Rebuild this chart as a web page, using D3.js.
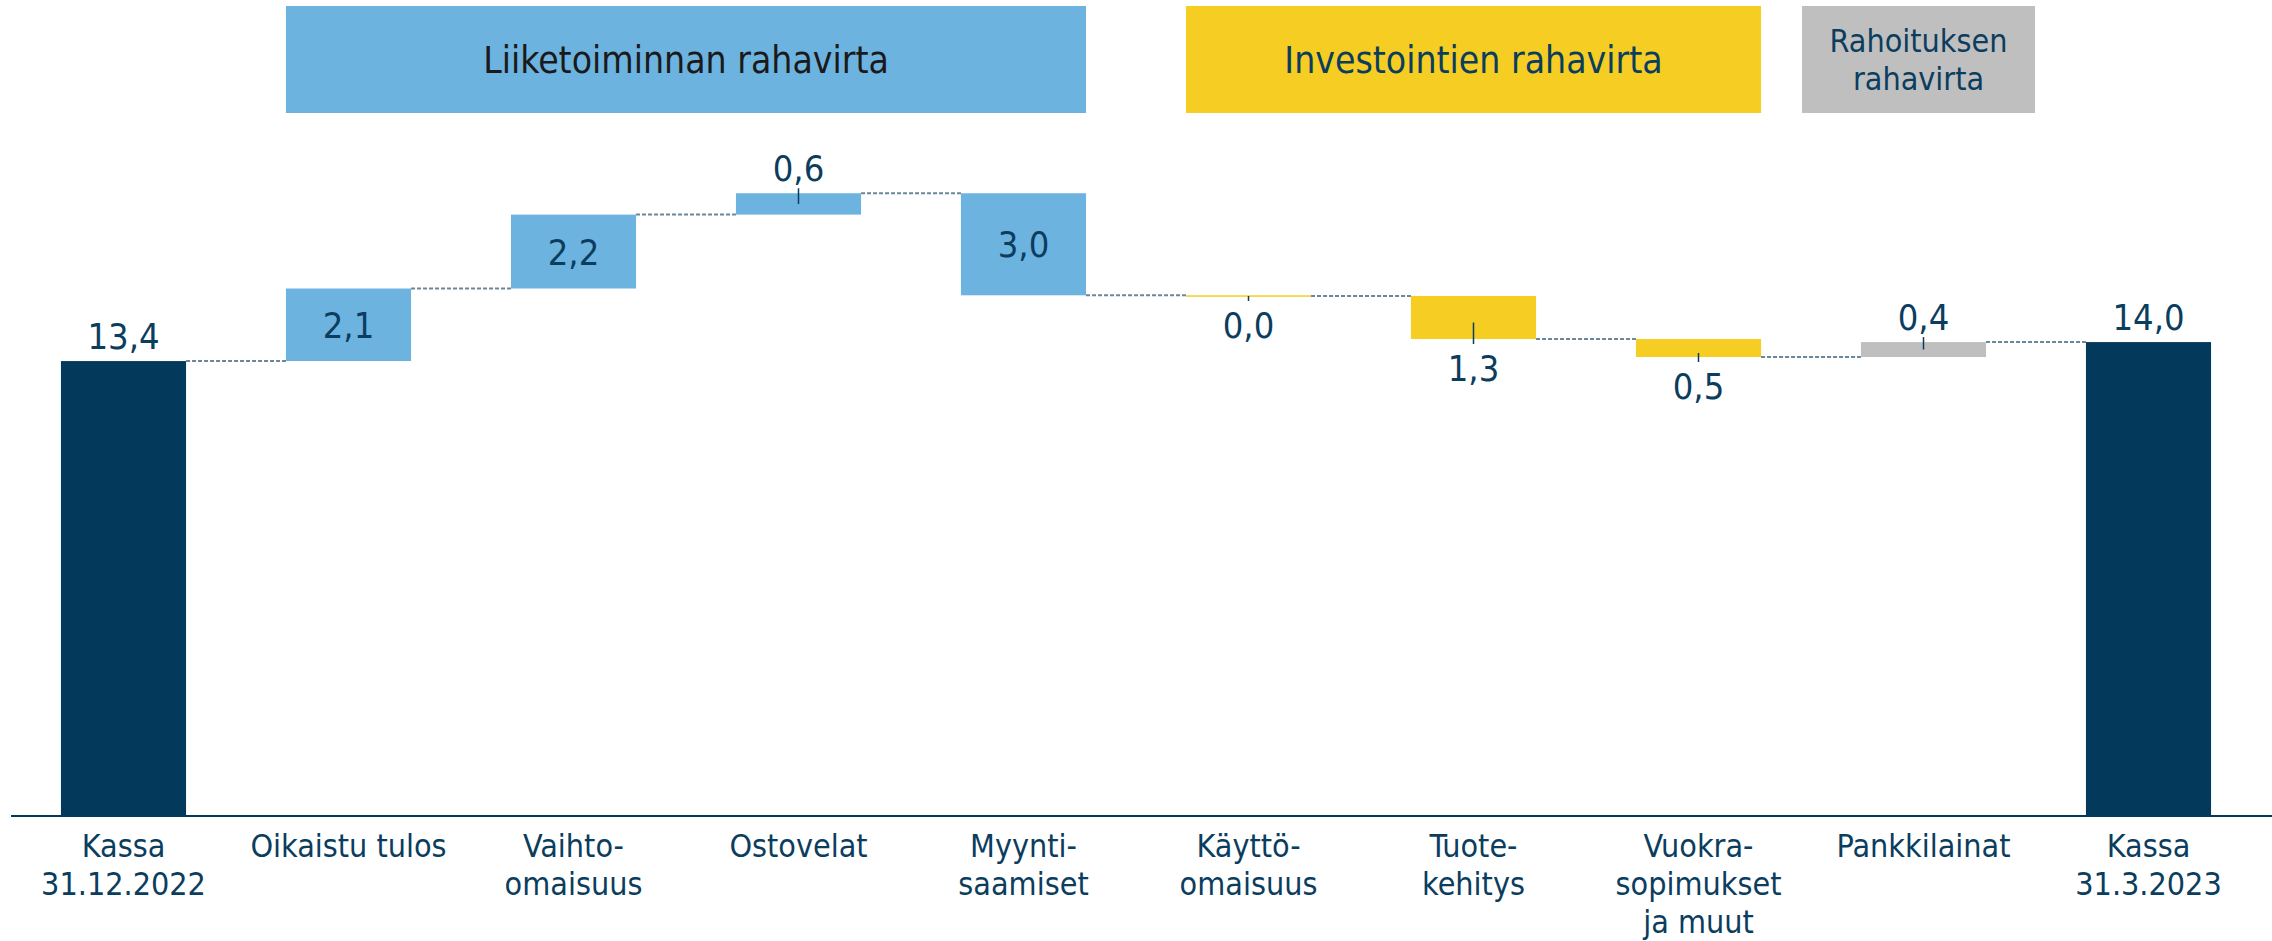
<!DOCTYPE html>
<html>
<head>
<meta charset="utf-8">
<script src="https://cdn.jsdelivr.net/npm/d3@7"></script>
<style>
  html, body { margin: 0; padding: 0; background: #fff; }
  svg text { font-family: "DejaVu Sans", sans-serif; font-stretch: condensed; }
</style>
</head>
<body>
<div id="app"></div>
<script>
const width = 2272,
  height = 941;

// data
const categories = [
  "Kassa\n31.12.2022",
  "Oikaistu tulos",
  "Vaihto-\nomaisuus",
  "Ostovelat",
  "Myynti-\nsaamiset",
  "Käyttö-\nomaisuus",
  "Tuote-\nkehitys",
  "Vuokra-\nsopimukset\nja muut",
  "Pankkilainat",
  "Kassa\n31.3.2023"
];
const startCash = 13.42;
const endCash = 13.98;
const changes = [2.14, 2.18, 0.63, -3.01, -0.02, -1.27, -0.53, 0.44];
const changeGroup = ["op", "op", "op", "op", "inv", "inv", "inv", "fin"];
const groups = ["op", "inv", "fin"];
const groupLabels = ["Liiketoiminnan rahavirta", "Investointien rahavirta", "Rahoituksen\nrahavirta"];

const navy = "#033a5c";
const textColor = "#0b3d5e";
const groupColor = { op: "#6db3e0", inv: "#f5cd23", fin: "#bfbfbf" };
const groupText = { op: "#1a1a1a", inv: textColor, fin: textColor };
const groupFont = { op: 37, inv: 37, fin: 32 };

// build waterfall steps
let steps = [];
steps.push({ cat: categories[0], y0: 0, y1: startCash, value: startCash, total: true, color: navy });
let run = startCash;
changes.forEach((c, i) => {
  steps.push({ cat: categories[i + 1], y0: run, y1: run + c, value: c, total: false, group: changeGroup[i], color: groupColor[changeGroup[i]] });
  run += c;
});
steps.push({ cat: categories[9], y0: 0, y1: endCash, value: endCash, total: true, color: navy });

const fmt = (v) => d3.format(".1f")(Math.abs(v)).replace(".", ",");

const x = d3.scaleBand().domain(categories).range([11, 2261]).paddingInner(0.444).paddingOuter(0.222);
const y = d3.scaleLinear().domain([0, 20]).range([816, 138]);
const bw = x.bandwidth();

const svg = d3.select("#app").append("svg").attr("width", width).attr("height", height);

// group header boxes
groups.forEach((g, gi) => {
  const idx = steps.map((s, i) => (s.group === g ? i : -1)).filter((i) => i >= 0);
  let x0 = x(categories[idx[0]]),
    x1 = x(categories[idx[idx.length - 1]]) + bw;
  if (x1 - x0 < 233) {
    const cx = (x0 + x1) / 2 - 5;
    x0 = cx - 116.5;
    x1 = cx + 116.5;
  }
  svg.append("rect")
    .attr("x", x0).attr("y", 6)
    .attr("width", x1 - x0).attr("height", 107)
    .attr("fill", groupColor[g]);
  const lines = groupLabels[gi].split("\n");
  const fs = groupFont[g];
  const lh = 38;
  const t = svg.append("text")
    .attr("text-anchor", "middle")
    .attr("fill", groupText[g])
    .style("font-size", fs + "px");
  lines.forEach((l, li) => {
    t.append("tspan")
      .attr("x", (x0 + x1) / 2)
      .attr("y", 59.5 + (li - (lines.length - 1) / 2) * lh + fs * 0.36)
      .text(l);
  });
});

// connectors
const conn = svg.append("g");
steps.slice(0, -1).forEach((s, i) => {
  conn.append("line")
    .attr("x1", x(s.cat) + bw)
    .attr("x2", x(steps[i + 1].cat))
    .attr("y1", y(s.y1))
    .attr("y2", y(s.y1))
    .attr("stroke", "#6a869b")
    .attr("stroke-width", 2)
    .attr("stroke-dasharray", "4,2");
});

// bars
svg.append("g")
  .selectAll("rect")
  .data(steps)
  .join("rect")
  .attr("x", (d) => x(d.cat))
  .attr("width", bw)
  .attr("y", (d) => y(Math.max(d.y0, d.y1)))
  .attr("height", (d) => Math.max(1.5, Math.abs(y(d.y0) - y(d.y1))))
  .attr("fill", (d) => d.color);

// value labels
const labels = svg.append("g")
  .attr("fill", textColor)
  .attr("text-anchor", "middle")
  .style("font-size", "36px");

steps.forEach((d) => {
  const cx = x(d.cat) + bw / 2;
  const top = y(Math.max(d.y0, d.y1)),
    bot = y(Math.min(d.y0, d.y1)),
    mid = (top + bot) / 2;
  const h = bot - top;
  let pos;
  if (d.total) pos = "above";
  else if (h > 60) pos = "inside";
  else pos = d.value >= 0 ? "above" : "below";

  let ty;
  if (pos === "above") ty = top - 12;
  else if (pos === "inside") ty = mid + 13;
  else ty = bot + 42;

  labels.append("text").attr("x", cx).attr("y", ty).text(fmt(d.value));

  // leader line for small change bars
  if (!d.total && pos !== "inside") {
    const ly = pos === "above" ? ty + 7 : ty - 37;
    labels.append("line")
      .attr("x1", cx).attr("x2", cx)
      .attr("y1", ly).attr("y2", Math.max(mid, pos === "below" ? Math.min(mid + 5, ly - 5) : mid))
      .attr("stroke", textColor)
      .attr("stroke-width", 1.5);
  }
});

// axis baseline
svg.append("line")
  .attr("x1", 11).attr("x2", width)
  .attr("y1", y(0)).attr("y2", y(0))
  .attr("stroke", navy)
  .attr("stroke-width", 2);

// category labels
const cat = svg.append("g")
  .attr("fill", textColor)
  .attr("text-anchor", "middle")
  .style("font-size", "32px");
categories.forEach((c) => {
  const t = cat.append("text");
  c.split("\n").forEach((l, li) => {
    t.append("tspan")
      .attr("x", x(c) + bw / 2)
      .attr("y", 857 + li * 38)
      .text(l);
  });
});
</script>
</body>
</html>
